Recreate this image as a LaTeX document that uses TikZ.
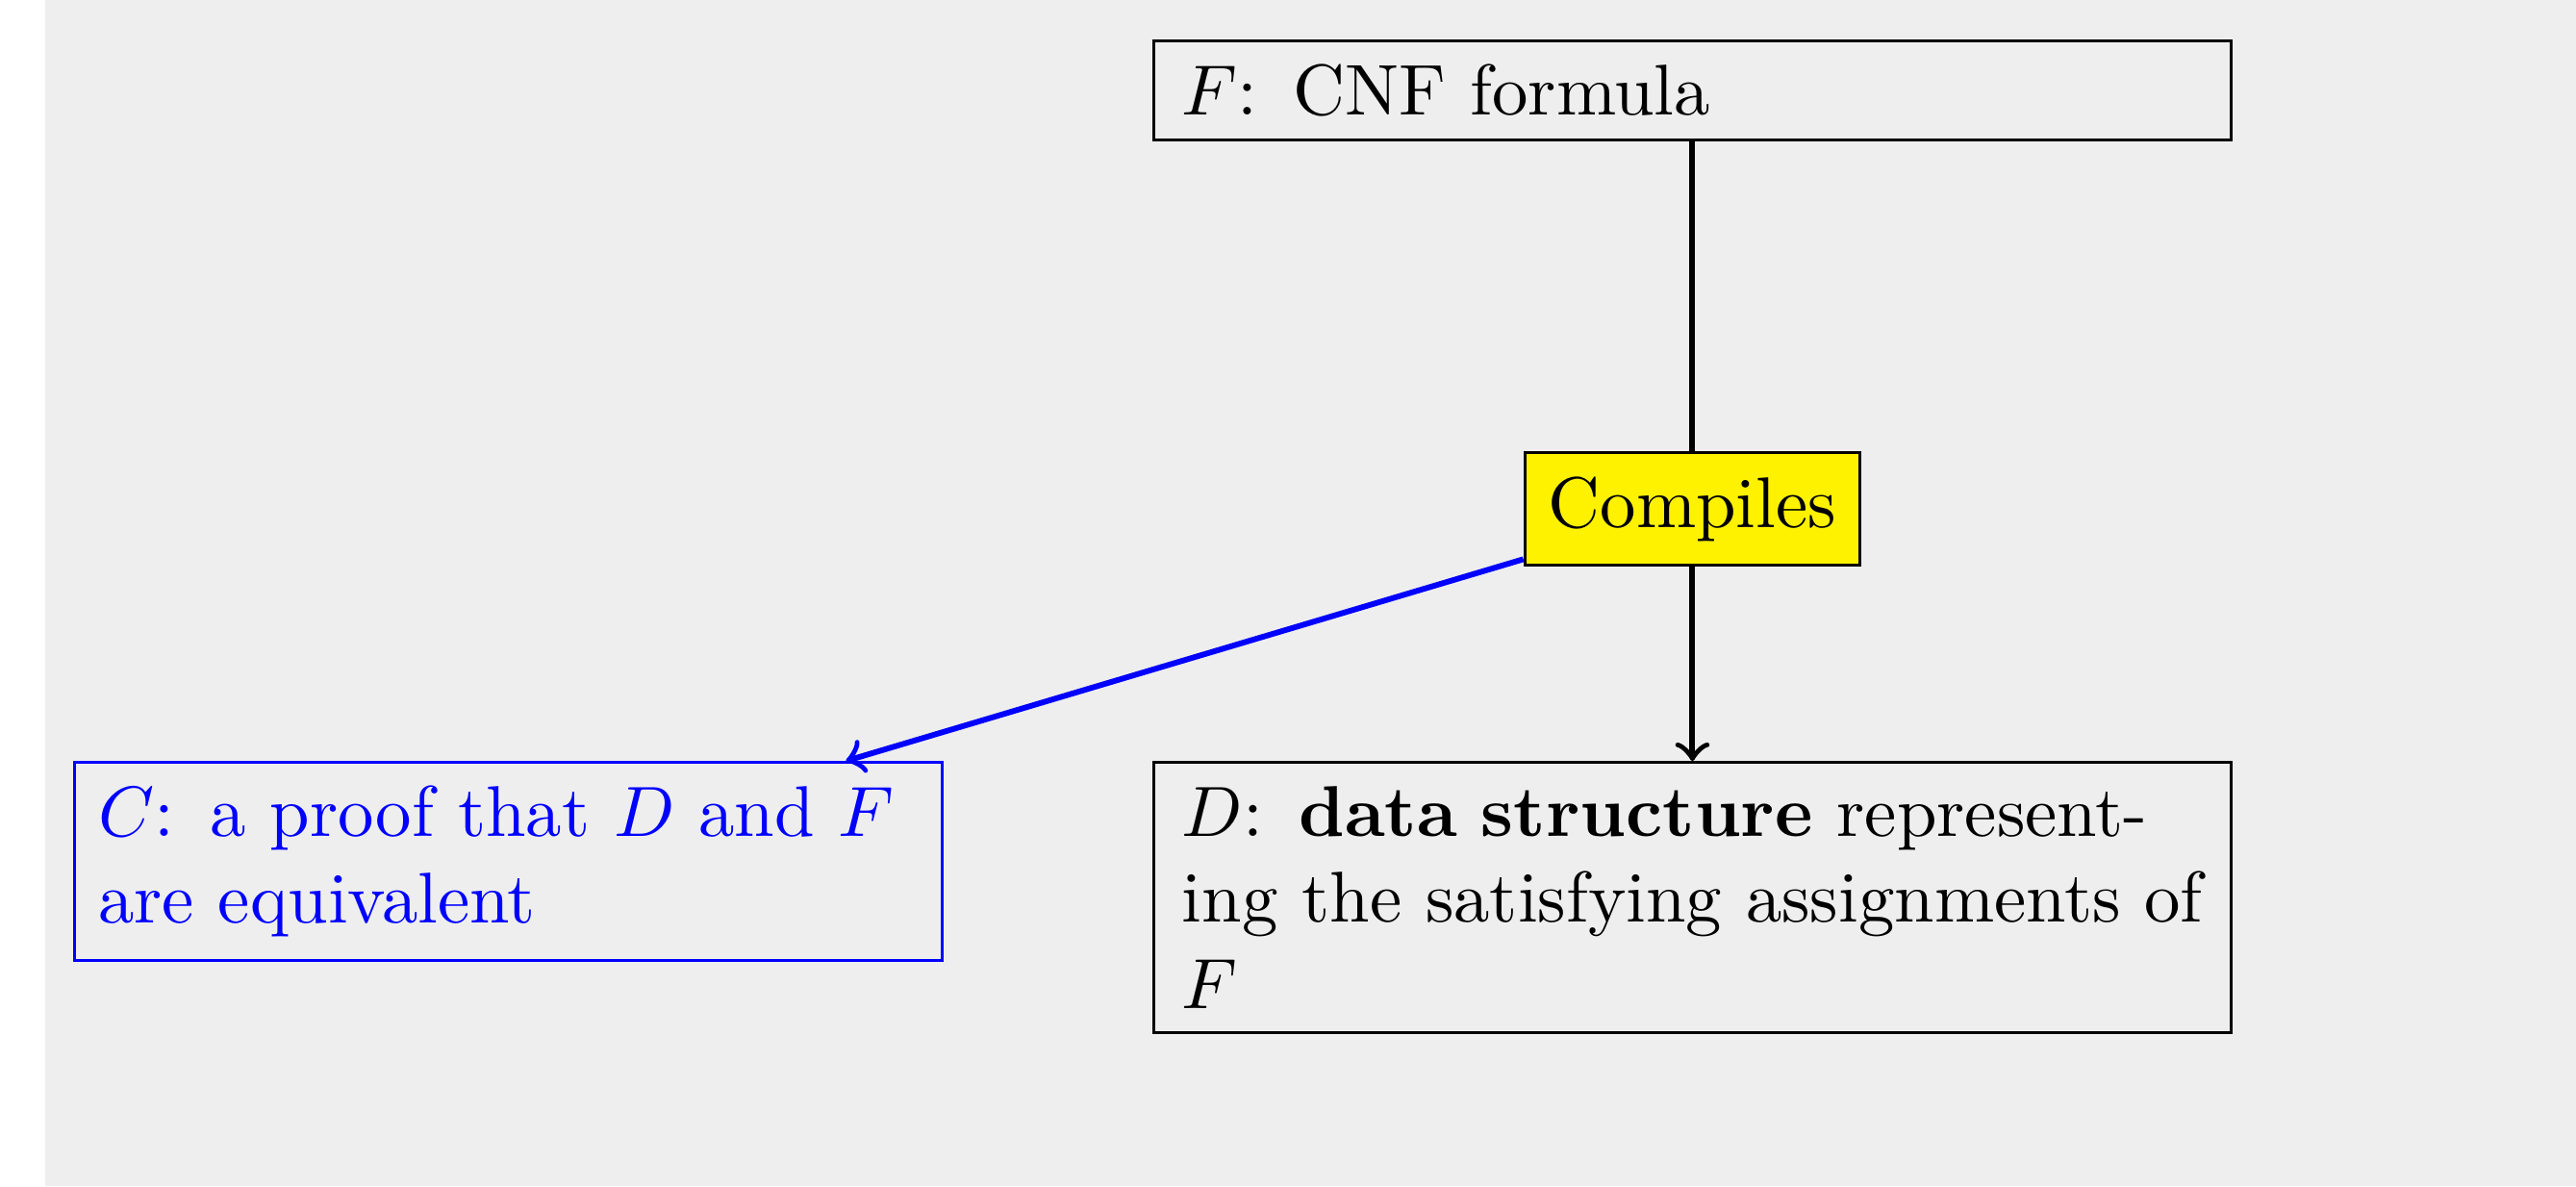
\documentclass[tikz,border=0pt]{standalone}
\usepackage{xcolor}
\definecolor{bggray}{HTML}{EEEEEE}

\tikzset{
    every node/.style={font=\fontsize{10.1}{12.12}\selectfont},
    infobox/.style={draw, rectangle, anchor=north},
    compilebox/.style={draw, rectangle, fill=yellow}
}

\begin{document}
\begin{tikzpicture}

\useasboundingbox (0,0) rectangle (12.72,5.857);
\fill[bggray] (0.223,0) rectangle (12.72,5.857);  % Grey page background

% Input formula
\node[draw, rectangle, text width=5.04cm, minimum width=5.32cm] (formula) at (8.357,5.41) {$F$: CNF formula};
% Compiler in the middle
\node[compilebox] (compiles) at (8.357,3.344) {Compiles};
% Outputs
\node[infobox, text width=5.04cm, minimum width=5.32cm] (structure) at (8.357,2.099) {$D$: \textbf{data structure} representing the satisfying assignments of $F$};
\node[infobox, draw=blue, text=blue, text width=4.05cm] (proof) at (2.51,2.099) {$C$: a proof that $D$ and $F$ are equivalent};

\draw[thick] (formula) -- (compiles);
\draw[thick, ->] (compiles) -- (structure);
\draw[thick, blue, ->] (compiles) -- (proof);

\end{tikzpicture}
\end{document}
